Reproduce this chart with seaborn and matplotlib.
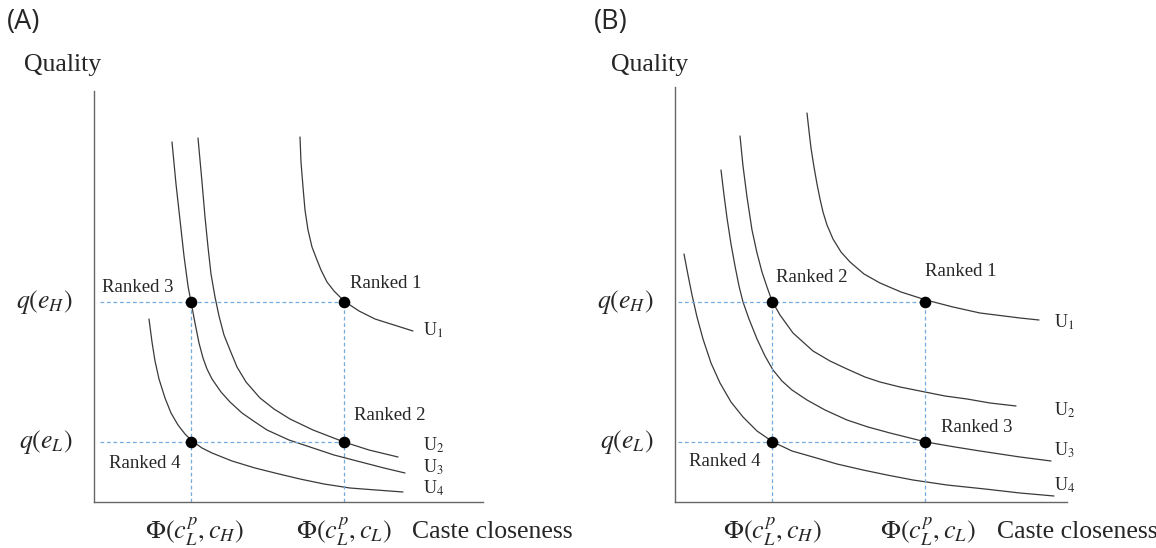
import numpy as np
import pandas as pd
import matplotlib
matplotlib.use("Agg")
import matplotlib.pyplot as plt
import seaborn as sns

# Indifference curves (units = pixels from each panel's origin)
a_u1_x = [206, 207, 209, 211, 214, 218, 223, 227, 233, 240, 250, 265, 281, 300, 319]
a_u1_y = [365, 340, 315, 292, 272, 255, 242, 232, 220, 211, 201, 191, 183, 177, 171]
a_u2_x = [104, 108, 111, 114, 117, 121, 125, 130, 136, 143, 152, 166, 180, 196, 219, 250, 275, 304]
a_u2_y = [364, 320, 285, 255, 228, 205, 186, 167, 152, 135, 120, 104, 93, 83, 72, 60, 52, 45]
a_u3_x = [78, 82, 86, 90, 94, 97, 101, 105, 109, 113, 118, 127, 136, 148, 161, 173, 195, 219, 240, 263, 290, 311]
a_u3_y = [360, 318, 282, 246, 216, 200, 179, 159, 144, 133, 123, 110, 100, 89, 80, 72, 62, 54, 47, 41, 34, 29]
a_u4_x = [55, 58, 61, 65, 71, 77, 84, 91, 98, 108, 118, 138, 161, 185, 206, 230, 256, 282, 309]
a_u4_y = [183, 160, 141, 123, 104, 89, 77, 68, 61, 54, 49, 41, 34, 28, 23, 18, 14, 12, 10]

b_u1_x = [132, 134, 136, 139, 142, 145, 148, 152, 158, 166, 175, 189, 205, 226, 251, 278, 305, 345, 364]
b_u1_y = [389, 371, 354, 335, 318, 303, 290, 277, 263, 250, 240, 228, 219, 210, 202, 195, 189, 184, 182]
b_u2_x = [65, 68, 72, 77, 82, 87, 92, 97, 105, 118, 138, 155, 172, 190, 205, 225, 250, 270, 292, 315, 341]
b_u2_y = [366, 336, 305, 272, 249, 230, 215, 201, 187, 169, 151, 141, 133, 125, 120, 115, 110, 106, 103, 99, 96]
b_u3_x = [46, 49, 52, 56, 60, 64, 68, 74, 82, 90, 98, 107, 117, 132, 150, 172, 193, 215, 235, 251, 280, 305, 345, 376]
b_u3_y = [332, 307, 284, 258, 236, 216, 200, 183, 163, 146, 132, 121, 112, 102, 92, 82, 75, 69, 64, 60, 55, 51, 45, 41]
b_u4_x = [9, 13, 17, 22, 28, 36, 45, 56, 68, 82, 98, 117, 138, 162, 188, 212, 238, 272, 310, 345, 379]
b_u4_y = [248, 227, 207, 185, 163, 139, 119, 100, 85, 71, 60, 51, 45, 38, 32, 27, 22, 17, 13, 9, 6]

# the four candidate points: closeness x quality
phi_vals = [97, 250]
q_vals = [200, 60]
a_ranks = ["Ranked 3", "Ranked 1", "Ranked 4", "Ranked 2"]
b_ranks = ["Ranked 2", "Ranked 1", "Ranked 4", "Ranked 3"]
curve_labels = ["U$_1$", "U$_2$", "U$_3$", "U$_4$"]
phi_labels = [r"$\Phi(c_L^p, c_H)$", r"$\Phi(c_L^p, c_L)$"]
q_labels = [r"$q(e_H)$", r"$q(e_L)$"]

sns.set_theme(style="white")
plt.rcParams["font.family"] = ["Liberation Serif", "DejaVu Serif"]
plt.rcParams["mathtext.fontset"] = "stix"

W, H = 1156, 548
fig = plt.figure(figsize=(W / 100, H / 100), dpi=100)
fig.patch.set_facecolor("white")

CURVE_C = "#3a3a3a"
DASH_C = "#74aadd"


def draw_panel(ax, curves, ranks, tag, layout):
    rows = []
    for name, (xs, ys) in zip(curve_labels, curves):
        for x, y in zip(xs, ys):
            rows.append({"curve": name, "x": x, "y": y})
    df = pd.DataFrame(rows)
    sns.lineplot(data=df, x="x", y="y", units="curve", estimator=None,
                 sort=False, color=CURVE_C, linewidth=0.9, ax=ax)

    # dashed guide lines
    x0 = layout["dash_x0"]
    for q in q_vals:
        ax.plot([x0, phi_vals[1]], [q, q], color=DASH_C, lw=0.9,
                dashes=(3, 2.2), zorder=2)
    for p in phi_vals:
        ax.plot([p, p], [0, q_vals[0]], color=DASH_C, lw=0.9,
                dashes=(3, 2.2), zorder=2)

    px = [phi_vals[0], phi_vals[1], phi_vals[0], phi_vals[1]]
    py = [q_vals[0], q_vals[0], q_vals[1], q_vals[1]]
    sns.scatterplot(x=px, y=py, s=70, color="black", edgecolor="black",
                    linewidth=0, zorder=5, ax=ax)

    for lab, (tx, ty) in zip(ranks, layout["rank_pos"]):
        ax.text(tx, ty, lab, fontsize=13.5, ha="left", va="center")
    for lab, ty in zip(curve_labels, layout["u_y"]):
        ax.text(layout["u_x"], ty, lab, fontsize=13, ha="left", va="center")
    for lab, q in zip(q_labels, q_vals):
        ax.text(-22, q, lab, fontsize=18.5, ha="right", va="center")
    for lab, p in zip(phi_labels, layout["phi_x"]):
        ax.text(p, -30, lab, fontsize=19, ha="center", va="center")
    ax.text(layout["cc_x"], -30, "Caste closeness", fontsize=18.5,
            ha="left", va="center")
    ax.text(layout["quality_x"], 437, "Quality", fontsize=18.5,
            ha="left", va="center")
    ax.text(layout["tag_x"], 480, tag, fontsize=19.5, family="Open Sans",
            ha="left", va="center")

    ax.set_xlim(0, layout["xmax"])
    ax.set_ylim(0, layout["ymax"])
    ax.set_xticks([])
    ax.set_yticks([])
    ax.set_xlabel("")
    ax.set_ylabel("")
    sns.despine(ax=ax)
    for s in ["left", "bottom"]:
        ax.spines[s].set_color("#666666")
        ax.spines[s].set_linewidth(1.0)
    ax.patch.set_alpha(0)
    for t in ax.texts:
        t.set_clip_on(False)


# panel A
ax_a = fig.add_axes([94 / W, 46 / H, 389 / W, 411 / H])
draw_panel(
    ax_a,
    [(a_u1_x, a_u1_y), (a_u2_x, a_u2_y), (a_u3_x, a_u3_y), (a_u4_x, a_u4_y)],
    a_ranks, "(A)",
    dict(dash_x0=6, rank_pos=[(8, 215), (256, 218), (15, 39), (260, 86)],
         u_x=329, u_y=[172, 57, 35, 14], phi_x=[100, 250], cc_x=318,
         quality_x=-70, tag_x=-87, xmax=389, ymax=411),
)

# panel B
ax_b = fig.add_axes([675 / W, 46 / H, 392 / W, 415 / H])
draw_panel(
    ax_b,
    [(b_u1_x, b_u1_y), (b_u2_x, b_u2_y), (b_u3_x, b_u3_y), (b_u4_x, b_u4_y)],
    b_ranks, "(B)",
    dict(dash_x0=3, rank_pos=[(101, 224), (250, 230), (14, 40), (266, 75)],
         u_x=379, u_y=[180, 92, 52, 17], phi_x=[97, 253], cc_x=322,
         quality_x=-64, tag_x=-81, xmax=392, ymax=415),
)

fig.savefig("out.png", dpi=100, facecolor="white")
